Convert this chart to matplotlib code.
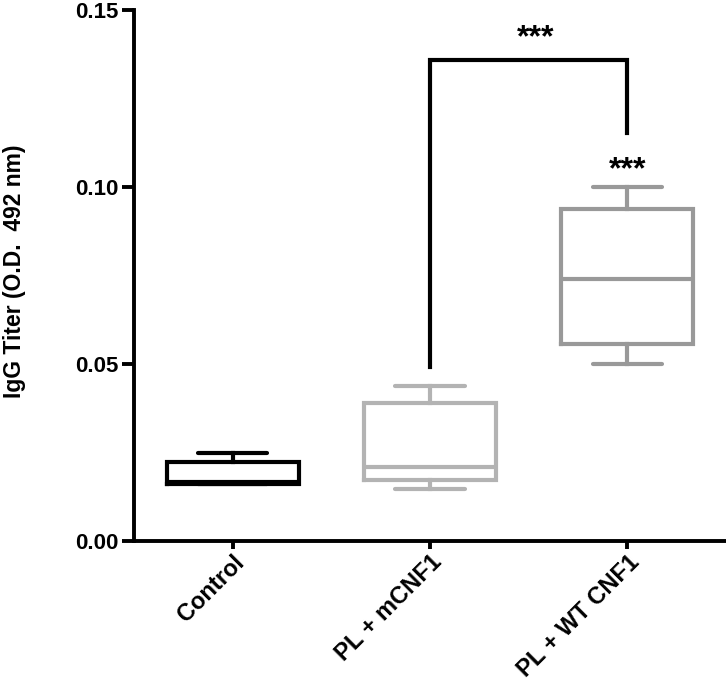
import matplotlib
matplotlib.use("Agg")
import matplotlib.pyplot as plt

categories = ["Control", "PL + mCNF1", "PL + WT CNF1"]
whislo = [0.0160, 0.0148, 0.0499]
q1 = [0.0160, 0.0172, 0.0556]
med = [0.0168, 0.0208, 0.0739]
q3 = [0.0223, 0.0389, 0.0937]
whishi = [0.0249, 0.0438, 0.0999]
colors = ["#000000", "#b3b3b3", "#999999"]
yticks = [0.00, 0.05, 0.10, 0.15]
ytick_labels = ["0.00", "0.05", "0.10", "0.15"]
bracket_y = [0.0492, 0.1359, 0.1153]
star_text = "***"
star_x = [1.533, 2.0]
star_y = [0.1398, 0.1024]

plt.rcParams['font.family'] = ['Liberation Sans', 'DejaVu Sans']
fig = plt.figure(figsize=(7.26, 6.88), dpi=100)
ax = fig.add_axes([0.1846, 0.2135, 0.8154, 0.7720])

lw = 3.0
for i in range(len(categories)):
    st = [dict(med=med[i], q1=q1[i], q3=q3[i], whislo=whislo[i], whishi=whishi[i], fliers=[])]
    c = colors[i]
    ax.bxp(st, positions=[i], widths=0.67, capwidths=0.35, showfliers=False,
           boxprops=dict(color=c, linewidth=lw, solid_joinstyle='miter'),
           medianprops=dict(color=c, linewidth=lw),
           whiskerprops=dict(color=c, linewidth=lw),
           capprops=dict(color=c, linewidth=lw, solid_capstyle='round'))

# significance bracket
ax.plot([1, 1, 2, 2], [bracket_y[0], bracket_y[1], bracket_y[1], bracket_y[2]],
        color='black', linewidth=lw, solid_joinstyle='miter', clip_on=False)
for sx, sy in zip(star_x, star_y):
    ax.text(sx, sy, star_text, ha='center', va='baseline', fontsize=23, fontweight='bold')

ax.set_xlim(-0.5, 2.5)
ax.set_ylim(0, 0.15)
ax.set_yticks(yticks)
ax.set_yticklabels(ytick_labels, fontsize=16, fontweight='bold')
ax.set_xticks(range(len(categories)))
ax.set_xticklabels(categories, rotation=45, ha='right', rotation_mode='anchor',
                   fontsize=17, fontweight='bold')
fig.text(14.5 / 726, 1 - 271 / 688, "IgG Titer (O.D.  492 nm)", rotation=90,
         ha='center', va='center', fontsize=16.5, fontweight='bold')

for s in ['top', 'right']:
    ax.spines[s].set_visible(False)
for s in ['left', 'bottom']:
    ax.spines[s].set_linewidth(2.8)
ax.tick_params(axis='y', direction='out', length=9, width=2.8, pad=2)
ax.tick_params(axis='x', direction='out', length=6, width=2.8, pad=1)

fig.savefig("out.png", dpi=100)
